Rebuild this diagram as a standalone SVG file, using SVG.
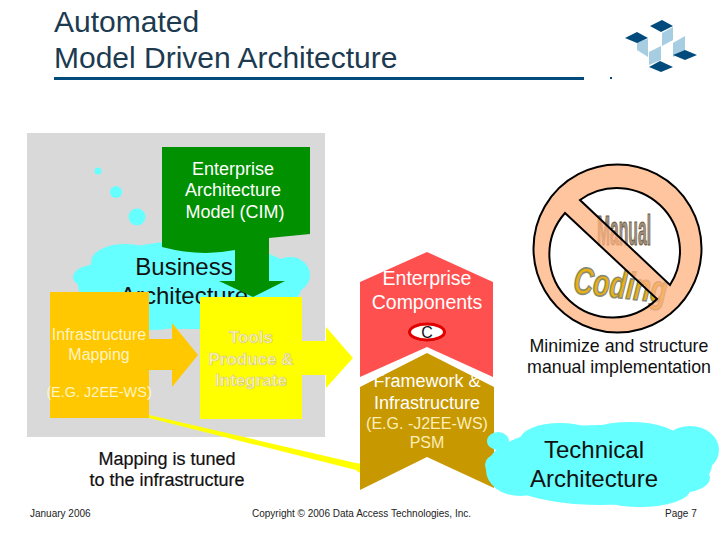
<svg xmlns="http://www.w3.org/2000/svg" width="720" height="540" viewBox="0 0 720 540">
<style>
text{font-family:"Liberation Sans",Arial,sans-serif}
.m{text-anchor:middle}
.cloud{fill:#66ffff}
.dk{fill:#004b7c}
.lt{fill:#a6cde2}
.f{font-size:10px;fill:#222}
.w18{font-size:18px;fill:#fff}
.k18{font-size:18px;fill:#111}
.k24{font-size:24px;fill:#111}
.pale{font-size:16px;fill:#fbeeb8}
</style>
<rect width="720" height="540" fill="#fff"/>
<g id="title">
<text x="54" y="32" font-size="30" fill="#1c3a50">Automated</text>
<text x="54" y="68" font-size="30" fill="#1c3a50">Model Driven Architecture</text>
<rect x="54" y="77" width="530" height="3" fill="#004b7c"/>
</g>
<g id="logo">
<polygon class="lt" points="673,27 673,40 662,46 662,33"/>
<polygon class="lt" points="637,42 648,39 648,57 637,50"/>
<polygon class="lt" points="673,43 685,36 685,52 673,57"/>
<polygon class="lt" points="649,52 661,46 661,60 649,65"/>
<polygon class="dk" points="650,26 662,20 673,26 661,32"/>
<polygon class="dk" points="625,38 637,32 648,38 637,43"/>
<polygon class="dk" points="673,55 685,50 697,55 685,60"/>
<polygon class="dk" points="649,67 660,61 673,67 661,72"/>
<rect class="dk" x="610" y="77" width="2" height="2"/>
</g>
<rect id="panel" x="27" y="133" width="298" height="304" fill="#d9d9d9"/>
<g id="business-cloud">
<circle class="cloud" cx="98" cy="171" r="3.5"/>
<circle class="cloud" cx="116" cy="192" r="6"/>
<circle class="cloud" cx="137" cy="217" r="8.5"/>
<ellipse class="cloud" cx="190" cy="285" rx="112" ry="44"/>
<ellipse class="cloud" cx="100" cy="277" rx="27" ry="13"/>
<ellipse class="cloud" cx="125" cy="262" rx="34" ry="18"/>
<ellipse class="cloud" cx="290" cy="275" rx="20" ry="18"/>
<ellipse class="cloud" cx="150" cy="310" rx="50" ry="20"/>
<ellipse class="cloud" cx="195" cy="250" rx="50" ry="10"/>
<text class="k24 m" x="184" y="275">Business</text>
<text class="k24 m" x="184" y="304">Architecture</text>
</g>
<g id="enterprise-model">
<path d="M162,147H310V234L269,238V281H285L253,297L219,281H235V250Q200,257 162,247Z" fill="#009000"/>
<text class="w18 m" x="233" y="175">Enterprise</text>
<text class="w18 m" x="233" y="196">Architecture</text>
<text class="w18 m" x="235" y="218">Model (CIM)</text>
</g>
<g id="infrastructure-mapping">
<path d="M50,292H149V339H172V323L198,355L172,387V370H149V418H50Z" fill="#ffc800"/>
<text class="pale m" x="99" y="340" style="fill:#fff4c4">Infrastructure</text>
<text class="pale m" x="99" y="360" style="fill:#fff4c4">Mapping</text>
<text class="pale m" x="99" y="397" style="fill:#fff4c4;font-size:14.5px">(E.G. J2EE-WS)</text>
</g>
<g id="tools">
<path d="M200,297H302V341H326V327L353,358L326,388V375H302V419H200Z" fill="#ffff00"/>
<g style="font-weight:bold;font-size:17px;fill:#fdf6c0;stroke:#d8cf70;stroke-width:.7">
<text class="m" x="251" y="343">Tools</text>
<text class="m" x="251" y="365">Produce &amp;</text>
<text class="m" x="251" y="386">Integrate</text>
</g>
</g>
<g id="connectors">
<polygon points="149,415 360,464 360,471 149,418" fill="#ffff00"/>
<circle cx="361" cy="468" r="5" fill="#ffff00"/>
</g>
<g id="framework">
<polygon points="360,387 427,353 494,387 494,488 427,457 360,490" fill="#c89800"/>
<text class="w18 m" x="427" y="387">Framework &amp;</text>
<text class="w18 m" x="427" y="409">Infrastructure</text>
<text class="pale m" x="427" y="429">(E.G. -J2EE-WS)</text>
<text class="pale m" x="427" y="448">PSM</text>
</g>
<g id="enterprise-components">
<polygon points="360,282 427,252 493,282 493,377 427,347 360,377" fill="#ff5050"/>
<text class="m" x="427" y="285" font-size="19.5" fill="#fff">Enterprise</text>
<text class="m" x="427" y="309" font-size="19.5" fill="#fff">Components</text>
<ellipse cx="427" cy="332" rx="17.5" ry="8" fill="#fff" stroke="#e00000" stroke-width="3"/>
<text class="m" x="427" y="338" font-size="16" fill="#111">C</text>
</g>
<g id="no-manual-coding">
<circle cx="617.5" cy="248.5" r="65" fill="#fff"/>
<text x="0" y="0" font-size="18" font-weight="bold" fill="#a09080" stroke="#6e5a40" stroke-width=".5" textLength="54" lengthAdjust="spacingAndGlyphs" transform="translate(597,245) scale(1,2.4)">Manual</text>
<text x="573" y="298" font-size="38" font-weight="bold" font-style="italic" fill="#e8b010" stroke="#8a8a70" stroke-width="1.6" textLength="94" lengthAdjust="spacingAndGlyphs" transform="rotate(6 620 290)">Coding</text>
<path fill-rule="evenodd" d="M617.5,164.5a84,84 0 1,0 .01,0ZM580,200A63,63 0 0,1 670,285ZM565,213A63,63 0 0,0 657,299Z" fill="#ffb27f" fill-opacity=".75" stroke="#000" stroke-width="2"/>
</g>
<text id="minimize-1" class="k18 m" x="619" y="352" style="font-size:17.8px">Minimize and structure</text>
<text id="minimize-2" class="k18 m" x="619" y="373" style="font-size:17.8px">manual implementation</text>
<g id="technical-cloud">
<ellipse class="cloud" cx="600" cy="465" rx="112" ry="40"/>
<ellipse class="cloud" cx="520" cy="470" rx="34" ry="26"/>
<ellipse class="cloud" cx="690" cy="450" rx="29" ry="24"/>
<ellipse class="cloud" cx="680" cy="478" rx="30" ry="15"/>
<ellipse class="cloud" cx="560" cy="440" rx="40" ry="17"/>
<ellipse class="cloud" cx="630" cy="440" rx="50" ry="18"/>
<ellipse class="cloud" cx="640" cy="490" rx="50" ry="17"/>
<ellipse class="cloud" cx="498" cy="441" rx="11" ry="9"/>
<circle class="cloud" cx="495" cy="465" r="10"/>
<text class="k24 m" x="594" y="458">Technical</text>
<text class="k24 m" x="594" y="487">Architecture</text>
</g>
<g id="mapping-note">
<text class="k18 m" x="167" y="465" stroke="#111" stroke-width=".2">Mapping is tuned</text>
<text class="k18 m" x="167" y="486" stroke="#111" stroke-width=".2">to the infrastructure</text>
</g>
<g id="footer">
<text class="f" x="30" y="517">January 2006</text>
<text class="f" x="252" y="517" textLength="219">Copyright © 2006 Data Access Technologies, Inc.</text>
<text class="f" x="665" y="517">Page 7</text>
</g>
</svg>
